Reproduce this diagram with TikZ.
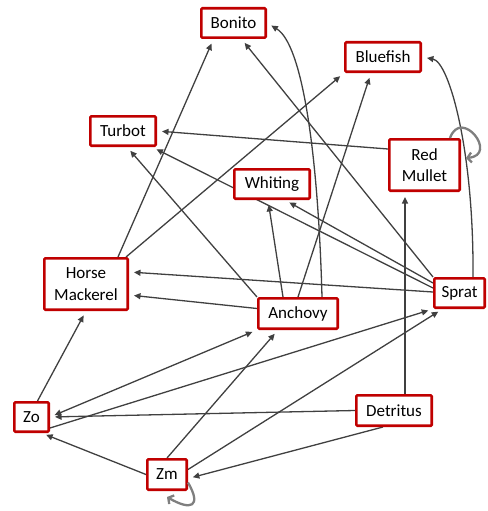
\documentclass[tikz,border=0pt]{standalone}
\usepackage{fontspec}
\setmainfont{Carlito}
\usetikzlibrary{arrows.meta,backgrounds}
\definecolor{boxred}{HTML}{C00000}
\definecolor{edgegray}{HTML}{404040}
\definecolor{loopgray}{HTML}{7F7F7F}
\begin{document}
\begin{tikzpicture}[x=1pt,y=-1pt,
  box/.style={draw=boxred, line width=2.6pt, fill=white, inner sep=0pt, align=center,
    rounded corners=1pt, font=\fontsize{17}{21.5}\selectfont},
  edge/.style={draw=edgegray, line width=1.3pt, -{Triangle[length=6.5pt,width=6pt]}, shorten >=5pt},
  biedge/.style={draw=edgegray, line width=1.3pt, {Triangle[length=6.5pt,width=6pt]}-{Triangle[length=6.5pt,width=6pt]}, shorten >=5pt, shorten <=5pt},
  selfloop/.style={draw=loopgray, line width=2.3pt, -{Straight Barb[length=4pt,width=10pt]}}]
\useasboundingbox (0,0) rectangle (487,511);
% nodes
\node[box, minimum width=64.4pt, minimum height=29.4pt] (bonito) at (233.5,23) {Bonito};
\node[box, minimum width=75.4pt, minimum height=29.4pt] (bluefish) at (383,57) {Bluefish};
\node[box, minimum width=65.4pt, minimum height=29.4pt] (turbot) at (123,131) {Turbot};
\node[box, minimum width=70.4pt, minimum height=51.4pt] (rm) at (424.5,165) {Red\\Mullet};
\node[box, minimum width=75.4pt, minimum height=29.4pt] (whiting) at (272,184) {Whiting};
\node[box, minimum width=83.4pt, minimum height=51.4pt] (hm) at (86,284) {Horse\\Mackerel};
\node[box, minimum width=79.4pt, minimum height=30.4pt] (anchovy) at (298,313.5) {Anchovy};
\node[box, minimum width=50.4pt, minimum height=29.4pt] (sprat) at (459.5,293) {Sprat};
\node[box, minimum width=34.4pt, minimum height=29.4pt] (zo) at (31.5,417) {Zo};
\node[box, minimum width=39.4pt, minimum height=30.4pt] (zm) at (167,474.5) {Zm};
\node[box, minimum width=75.4pt, minimum height=30.4pt] (det) at (394,410.5) {Detritus};
% edges
\begin{scope}[on background layer]
\draw[edge] ([xshift=32pt]hm.north) -- ([xshift=-20pt]bonito.south);
\draw[edge] ([xshift=40pt]hm.north) -- (bluefish.south west);
\draw[edge] (sprat.north west) -- ([xshift=8pt]bonito.south);
\draw[edge] ([xshift=24pt]anchovy.north) .. controls +(-4,-147) and +(35,21) .. (bonito.east);
\draw[edge] (anchovy.north) -- ([xshift=-12pt]bluefish.south);
\draw[edge] ([xshift=13.5pt]sprat.north) .. controls +(1,-127) and +(27,5) .. (bluefish.east);
\draw[edge] ([yshift=16pt]rm.west) -- (turbot.east);
\draw[edge] (anchovy.north west) -- ([xshift=4pt]turbot.south);
\draw[edge] ([yshift=5pt]sprat.west) -- ([xshift=-5pt]turbot.south east);
\draw[edge] ([yshift=10pt]sprat.west) -- ([xshift=13pt]whiting.south);
\draw[edge] ([xshift=-15pt]anchovy.north) -- ([xshift=-4pt]whiting.south);
\draw[edge] ([yshift=1pt]sprat.west) -- ([yshift=12pt]hm.east);
\draw[edge] ([yshift=5pt]anchovy.west) -- ([yshift=-11pt]hm.east);
\draw[edge] ([xshift=6pt]zo.north) -- (hm.south);
\draw[biedge] (zo.east) -- (anchovy.south west);
\draw[edge] ([yshift=-11pt]zo.east) -- (sprat.south west);
\draw[edge] (det.west) -- (zo.east);
\coordinate (detup) at ([xshift=11pt]det.north);
\draw[edge] (detup) -- (detup |- rm.south);
\draw[edge] ([xshift=-11pt]det.south) -- ([yshift=-4pt]zm.east);
\draw[edge] (zm.west) -- ([xshift=10pt]zo.south);
\draw[edge] (zm.north) -- ([xshift=-20pt]anchovy.south);
\draw[edge] ([yshift=5pt]zm.east) -- ([xshift=-17pt]sprat.south);
\end{scope}
% self loops
\draw[selfloop] ([xshift=-11pt]rm.north east) to[out=70,in=5,looseness=3.3] ([xshift=5pt,yshift=-20pt]rm.north east);
\draw[selfloop] ([yshift=-8pt]zm.east) to[out=-60,in=-30,looseness=2.8] ([yshift=-6pt]zm.south);
\end{tikzpicture}
\end{document}
